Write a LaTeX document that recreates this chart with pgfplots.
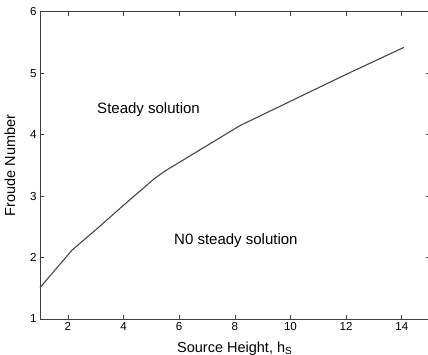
\documentclass[border=0pt]{standalone}
\usepackage{pgfplots}
\pgfplotsset{compat=1.18}
\usepackage{fontspec}
\setmainfont{Liberation Sans}
\begin{document}
\begin{tikzpicture}
\begin{axis}[
  scale only axis,
  width=389.6pt, height=307.3pt,
  xmin=1, xmax=15, ymin=1, ymax=6,
  xtick={2,4,...,14}, ytick={1,2,...,6},
  tick align=inside,
  major tick length=4pt,
  axis line style={draw=black!75, line width=0.8pt},
  tick style={black!75, line width=0.6pt},
  /pgf/number format/assume math mode=true,
  tick label style={font=\fontsize{11.6pt}{13pt}\selectfont},
  label style={font=\fontsize{14.5pt}{16pt}\selectfont},
  xlabel={Source Height, h$_{\fontsize{12pt}{12pt}\selectfont\mathrm{S}}$},
  ylabel={Froude Number},
  xlabel style={yshift=-4pt},
  ylabel style={yshift=8pt},
  clip=false,
]
\addplot[color=black!72, line width=1.1pt] coordinates {
(1,1.51) (2.15,2.12) (3,2.45) (4,2.85) (5.1,3.28) (5.5,3.41) (8.2,4.15) (12,4.98) (14.08,5.42)
};
\node[font=\fontsize{15pt}{17pt}\selectfont] at (axis cs:4.9,4.4) {Steady solution};
\node[font=\fontsize{15pt}{17pt}\selectfont] at (axis cs:8.04,2.27) {N0 steady solution};
\end{axis}
\pgfresetboundingbox
\path (-40pt,-36pt) rectangle (388pt,319pt);
\end{tikzpicture}
\end{document}
